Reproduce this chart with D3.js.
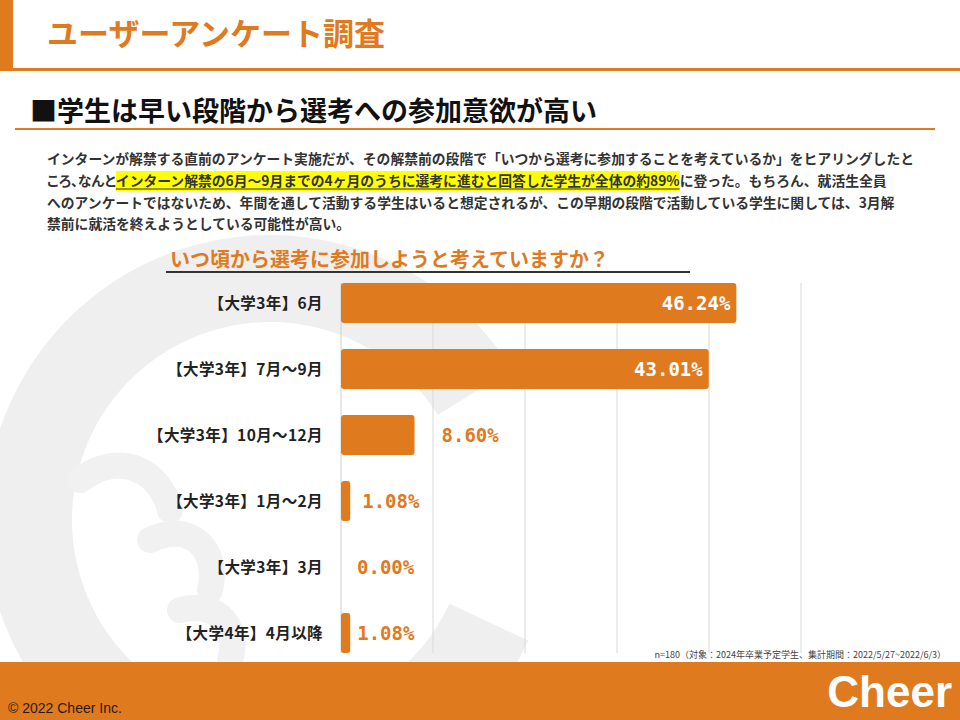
<!DOCTYPE html>
<html><head><meta charset="utf-8">
<script src="https://cdn.jsdelivr.net/npm/d3@7"></script>
<style>body{margin:0;background:#fff}svg{display:block}</style>
</head><body>
<script>
const categories = ["【大学3年】6月","【大学3年】7月～9月","【大学3年】10月～12月","【大学3年】1月～2月","【大学3年】3月","【大学4年】4月以降"];
const values = [46.24, 43.01, 8.60, 1.08, 0.00, 1.08];
const valueLabels = ["46.24%","43.01%","8.60%","1.08%","0.00%","1.08%"];
const gridTicks = [0, 10.76, 21.52, 32.28, 43.04, 53.8];
const paraLines = [
  ["インターンが解禁する直前のアンケート実施だが、その解禁前の段階で「いつから選考に参加することを考えているか」をヒアリングしたと"],
  ["ころ、なんと","インターン解禁の6月～9月までの4ヶ月のうちに選考に進むと回答した学生が全体の約89%","に登った。もちろん、就活生全員"],
  ["へのアンケートではないため、年間を通して活動する学生はいると想定されるが、この早期の段階で活動している学生に関しては、3月解"],
  ["禁前に就活を終えようとしている可能性が高い。"]
];
const ORANGE = "#E07A1F";
const JP = "'Noto Sans CJK JP','Noto Sans',sans-serif";

const W = 960, H = 720;
const svg = d3.select("body").append("svg").attr("width", W).attr("height", H);

// watermark ring
const wm = svg.append("g").attr("transform", "translate(270,520)").attr("fill", "#efefef");
wm.append("path")
  .attr("d", d3.arc()({innerRadius: 198, outerRadius: 285, startAngle: 115*Math.PI/180, endAngle: 418*Math.PI/180}));
// hint of hand fingers
wm.append("path").attr("fill", "none").attr("stroke", "#f1f1f1").attr("stroke-width", 26).attr("stroke-linecap", "round")
  .attr("d", "M-190,-40 C-150,-70 -110,-50 -100,-10 M-120,20 C-80,0 -50,30 -60,70 M-90,90 C-50,80 -30,110 -40,140");

// header
svg.append("rect").attr("x", 0).attr("y", 0).attr("width", 13).attr("height", 71).attr("fill", ORANGE);
svg.append("rect").attr("x", 0).attr("y", 68).attr("width", W).attr("height", 3).attr("fill", ORANGE);
svg.append("text").attr("x", 47).attr("y", 45).attr("font-family", JP).attr("font-weight", 700)
  .attr("font-size", 31).attr("fill", ORANGE).text("ユーザーアンケート調査");

svg.append("text").attr("x", 30).attr("y", 121).attr("font-family", JP).attr("font-weight", 700)
  .attr("font-size", 27).attr("fill", "#111").text("■学生は早い段階から選考への参加意欲が高い");
svg.append("rect").attr("x", 15).attr("y", 128).attr("width", 920).attr("height", 2).attr("fill", ORANGE);

// paragraph
const paraY = [164, 186, 208, 229];
paraLines.forEach((parts, i) => {
  let x = 47;
  parts.forEach((p, j) => {
    const hl = (i === 1 && j === 1);
    const t = svg.append("text").attr("x", x).attr("y", paraY[i]).attr("font-family", JP)
      .attr("font-weight", 700).attr("font-size", 13.8).attr("fill", "#333").text(p);
    if (i === 1 && j === 0) t.style("font-feature-settings", "'palt'");
    const w = t.node().getComputedTextLength();
    if (hl) {
      svg.insert("rect", "text").attr("x", x).attr("y", paraY[i] - 15).attr("width", w).attr("height", 20).attr("fill", "#FFFF00");
      svg.append("line").attr("x1", x).attr("x2", x + w).attr("y1", paraY[i] + 3).attr("y2", paraY[i] + 3)
        .attr("stroke", "#333").attr("stroke-width", 1);
    }
    x += w;
  });
});

// chart title
svg.append("text").attr("x", 170).attr("y", 267).attr("font-family", JP).attr("font-weight", 700)
  .attr("font-size", 20).attr("fill", ORANGE).text("いつ頃から選考に参加しようと考えていますか？");
svg.append("rect").attr("x", 166).attr("y", 271).attr("width", 524).attr("height", 2).attr("fill", "#333");

// scales
const x = d3.scaleLinear().domain([0, 53.8]).range([341, 801]);
const y = d3.scaleBand().domain(categories).range([270, 666]).paddingInner(0.394).paddingOuter(0.197);

// gridlines
svg.append("g").selectAll("line").data(gridTicks).join("line")
  .attr("x1", d => x(d)).attr("x2", d => x(d))
  .attr("y1", y(categories[0])).attr("y2", y(categories[5]) + y.bandwidth())
  .attr("stroke", d => d === 0 ? "#cfcfcf" : "#d9d9d9").attr("stroke-width", 1);

// bars
svg.append("g").selectAll("rect").data(values).join("rect")
  .attr("x", x(0)).attr("y", (d, i) => y(categories[i]))
  .attr("width", d => Math.max(0, x(d) - x(0))).attr("height", y.bandwidth())
  .attr("rx", 3).attr("fill", ORANGE);

// category labels
svg.append("g").selectAll("text").data(categories).join("text")
  .attr("x", 323).attr("y", d => y(d) + y.bandwidth() / 2 + 6)
  .attr("text-anchor", "end").attr("font-family", JP).attr("font-weight", 700)
  .attr("font-size", 15.5).attr("letter-spacing", 0.4).attr("fill", "#222").text(d => d);

// value labels
function labelX(d, i) {
  if (d > 20) return x(d) - 6;
  if (d > 5) return x(d) + 27;
  if (d === 0) return x(d) + 16;
  return i === 3 ? x(d) + 12 : x(d) + 7;
}
svg.append("g").selectAll("text").data(values).join("text")
  .attr("x", labelX)
  .attr("y", (d, i) => y(categories[i]) + y.bandwidth() / 2 + 7)
  .attr("text-anchor", d => d > 20 ? "end" : "start")
  .attr("font-family", "'DejaVu Sans Mono',monospace").attr("font-weight", 700)
  .attr("font-size", 19).attr("fill", d => d > 20 ? "#fff" : ORANGE)
  .text((d, i) => valueLabels[i]);

// note
svg.append("text").attr("x", 946).attr("y", 658).attr("text-anchor", "end").attr("font-family", JP)
  .attr("font-size", 9).attr("fill", "#444").text("n=180（対象：2024年卒業予定学生、集計期間：2022/5/27~2022/6/3）");

// footer
svg.append("rect").attr("x", 0).attr("y", 662).attr("width", W).attr("height", 58).attr("fill", ORANGE);
svg.append("text").attr("x", 8).attr("y", 713).attr("font-family", "'Liberation Sans',Arial,sans-serif")
  .attr("font-size", 14).attr("fill", "#2a1a0a").text("© 2022 Cheer Inc.");
svg.append("text").attr("x", 952).attr("y", 707).attr("text-anchor", "end").attr("font-family", "'Liberation Sans',Arial,sans-serif")
  .attr("font-weight", 700).attr("font-size", 44).attr("fill", "#fff").text("Cheer");
</script>
</body></html>
